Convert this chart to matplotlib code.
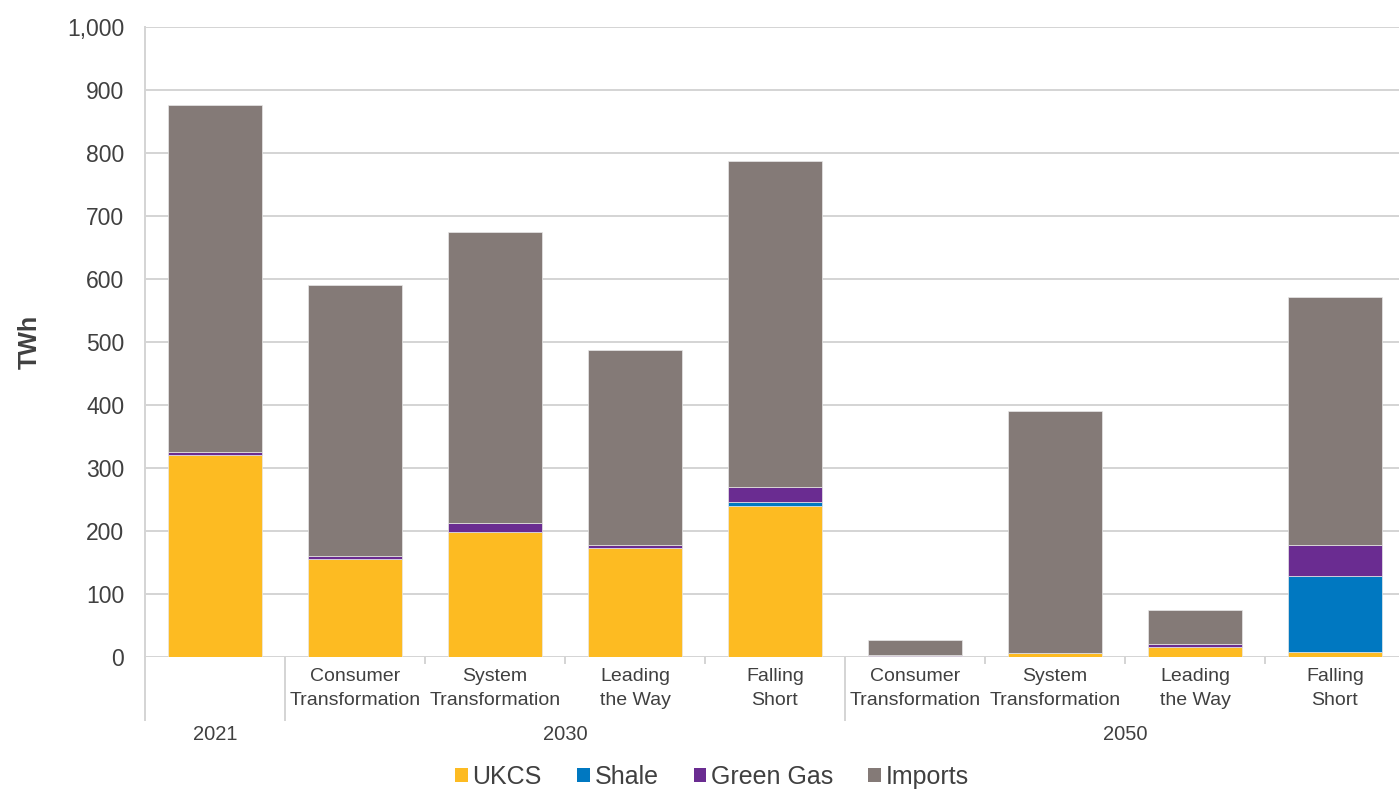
import matplotlib
matplotlib.use("Agg")
import matplotlib.pyplot as plt
import matplotlib.transforms as mtransforms
from matplotlib.patches import Patch
import numpy as np

plt.rcParams['font.family'] = ['Liberation Sans', 'DejaVu Sans']

# Gas supply by source (TWh)
scenarios = ["", "Consumer\nTransformation", "System\nTransformation", "Leading\nthe Way", "Falling\nShort",
             "Consumer\nTransformation", "System\nTransformation", "Leading\nthe Way", "Falling\nShort"]
years = ["2021", "2030", "2050"]
year_spans = [(0, 0), (1, 4), (5, 8)]
ukcs = [321, 155, 199, 173, 240, 1, 6, 16, 8]
shale = [0, 0, 0, 0, 6, 0, 0, 0, 120]
green_gas = [4, 6, 13, 5, 24, 2, 0.5, 4, 50]
imports = [551, 429, 463, 309, 517, 24, 384, 55, 393]

series = [("UKCS", ukcs, "#FDBB22"), ("Shale", shale, "#0078C1"),
          ("Green Gas", green_gas, "#6A2C91"), ("Imports", imports, "#847A77")]

W, H = 1399, 790
fig = plt.figure(figsize=(W / 100, H / 100), dpi=100)
ax = fig.add_axes([145 / W, (H - 657) / H, 1260 / W, 630 / H])

x = np.arange(len(scenarios))
bottom = np.zeros(len(scenarios))
for name, vals, col in series:
    vals = np.array(vals, dtype=float)
    ax.bar(x, vals, bottom=bottom, width=0.67, color=col, edgecolor="#e8e8e8",
           linewidth=0.5, label=name, zorder=3)
    bottom += vals

ax.set_xlim(-0.5, len(scenarios) - 0.5)
ax.set_ylim(0, 1000)
ax.set_yticks(np.arange(0, 1001, 100))
ax.set_yticklabels([f"{v:,}" for v in range(0, 1001, 100)], fontsize=16.5, color="#404040")
ax.tick_params(axis="y", length=0, pad=15)
ax.set_xticks([])
ax.grid(axis="y", color="#d4d4d4", linewidth=1.4, zorder=0)
for s in ["top", "right", "bottom"]:
    ax.spines[s].set_visible(False)
ax.spines["left"].set_color("#d4d4d4")
ax.spines["left"].set_linewidth(1.4)
ax.set_ylabel("TWh", fontsize=18, fontweight="bold", color="#404040", labelpad=18)

trans = mtransforms.blended_transform_factory(ax.transData, ax.transAxes)
line_kw = dict(color="#d4d4d4", linewidth=1.4, clip_on=False, transform=trans)

# Scenario labels and short separators
for i, lab in enumerate(scenarios):
    if lab:
        ax.text(i, -0.0175, lab, transform=trans, ha="center", va="top",
                fontsize=14, color="#404040", linespacing=1.55)
for i in [2, 3, 4, 6, 7, 8]:
    ax.plot([i - 0.5, i - 0.5], [0, -0.009], **line_kw)

# Year group labels and long separators
for (a, b), yr in zip(year_spans, years):
    ax.text((a + b) / 2, -0.1236, yr, transform=trans, ha="center", va="center",
            fontsize=14.5, color="#404040")
for edge in [-0.5, 0.5, 4.5]:
    ax.plot([edge, edge], [0, -0.1], **line_kw)

handles = [Patch(facecolor=c, label=n) for n, _, c in series]
fig.legend(handles=handles, loc="center", bbox_to_anchor=(712 / W, 1 - 777 / H), ncol=4,
           frameon=False, fontsize=18, handlelength=0.5, handleheight=0.5,
           handletextpad=0.2, columnspacing=1.4, labelcolor="#404040")

fig.savefig("out.png", dpi=100, facecolor="white")
